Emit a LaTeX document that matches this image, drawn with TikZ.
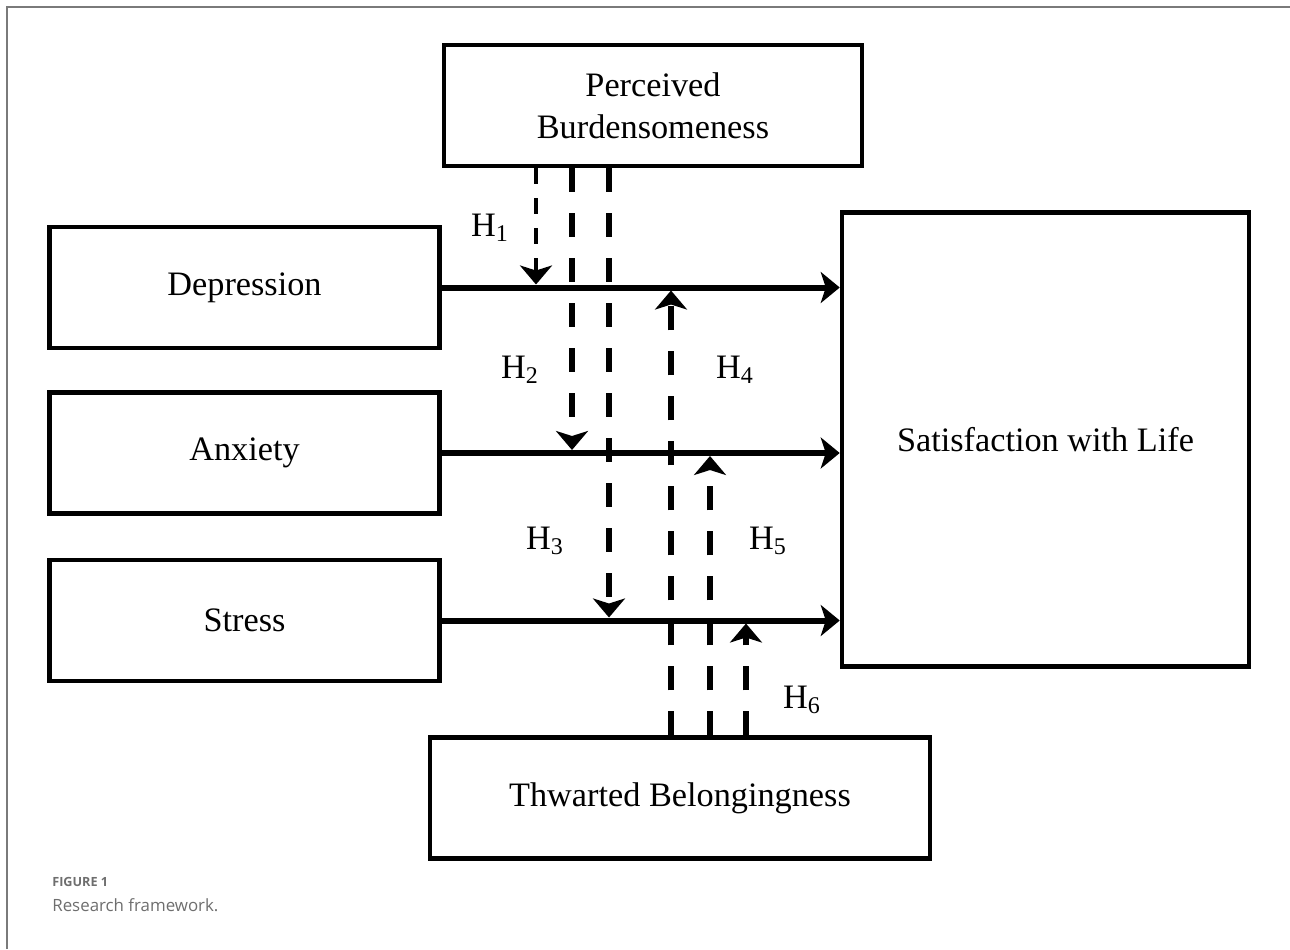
\documentclass[tikz,border=0pt]{standalone}
\usepackage{fontspec}
\setmainfont{Liberation Serif}
\newfontfamily\capfont{Open Sans}
\usepackage{tikz}
\usetikzlibrary{arrows.meta, positioning, calc}
\definecolor{framegray}{HTML}{7A7A7A}
\definecolor{capgray}{HTML}{6E6E6E}
\tikzset{
  box/.style={rectangle, draw, line width=0.09cm, inner sep=0pt,
              align=center, font=\fontsize{19.5}{24}\selectfont},
  arr/.style={-{Stealth[length=0.38cm, width=0.62cm, inset=0.1cm]}, line width=0.12cm},
  mod/.style={-{Stealth[length=0.38cm, width=0.64cm, inset=0.1cm]}, line width=0.13cm,
              dash pattern=on 0.48cm off 0.42cm},
  modthin/.style={mod, line width=0.08cm, dash pattern=on 0.32cm off 0.28cm},
  hyp/.style={font=\fontsize{19.5}{24}\selectfont, inner sep=0pt},
}

\begin{document}
\begin{tikzpicture}[
  capt/.style={anchor=west, text=capgray, inner sep=0pt}
]
  \useasboundingbox (0,0) rectangle (25.8,-18.98);
  \draw[framegray, line width=0.03cm] (0.14,-18.98) -- (0.14,-0.14) -- (25.8,-0.14);

  \node[box, minimum width=8.36cm, minimum height=2.42cm] (pb) at (13.06,-2.11) {Perceived\\Burdensomeness};
  \node[box, minimum width=7.8cm, minimum height=2.42cm] (dep) at (4.89,-5.75) {Depression};
  \node[box, minimum width=7.8cm, minimum height=2.42cm] (anx) at (4.89,-9.06) {Anxiety};
  \node[box, minimum width=7.8cm, minimum height=2.42cm] (str) at (4.89,-12.41) {Stress};
  \node[box, minimum width=8.14cm, minimum height=9.08cm] (swl) at (20.91,-8.79) {Satisfaction with Life};
  \node[box, minimum width=10.0cm, minimum height=2.42cm] (tb) at (13.6,-15.96) {Thwarted Belongingness};

  \foreach \n in {dep, anx, str}
    \draw[arr] (\n.east) -- (\n.east -| swl.west);

  % tips of the moderating paths
  \coordinate (t1) at (10.72,-5.69);
  \coordinate (t2) at (11.44,-9.00);
  \coordinate (t3) at (12.18,-12.35);
  \coordinate (t4) at (13.42,-5.81);
  \coordinate (t5) at (14.20,-9.12);
  \coordinate (t6) at (14.92,-12.47);

  \draw[modthin] (t1 |- pb.south) -- (t1);
  \foreach \t in {t2, t3}
    \draw[mod] (\t |- pb.south) -- (\t);
  \foreach \t in {t4, t5, t6}
    \draw[mod] (\t |- tb.north) -- (\t);

  \node[hyp] (h1) at (9.80,-4.56)  {H\textsubscript{1}};
  \node[hyp] (h2) at (10.40,-7.40) {H\textsubscript{2}};
  \node[hyp] (h3) at (10.90,-10.82) {H\textsubscript{3}};
  \node[hyp] (h4) at (14.70,-7.40) {H\textsubscript{4}};
  \node[hyp] (h5) at (15.36,-10.82) {H\textsubscript{5}};
  \node[hyp] (h6) at (16.04,-14.00) {H\textsubscript{6}};

  \node[capt, font=\capfont\bfseries\fontsize{7.2}{9}\selectfont] (fig) at (1.04,-17.64) {FIGURE 1};
  \node[capt, font=\capfont\fontsize{9.6}{12}\selectfont] (cap) at (1.04,-18.10) {Research framework.};
\end{tikzpicture}
\end{document}
